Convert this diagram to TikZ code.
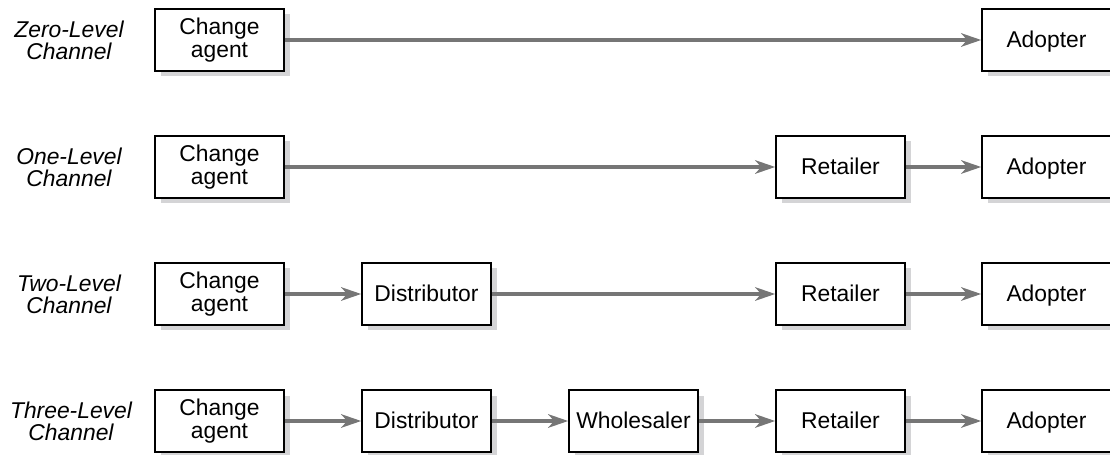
\documentclass[tikz,border=0pt]{standalone}
\usepackage{fontspec}
\setmainfont{Liberation Sans}
\usepackage{tikz}
\usetikzlibrary{arrows.meta, positioning, shadows}
\definecolor{ArrowGray}{RGB}{118,118,118}
\definecolor{ShadowGray}{RGB}{212,212,214}
\tikzstyle{chanbox} = [draw, line width=0.9pt, fill=white, minimum width=2.58cm, minimum height=1.24cm, align=center, font=\fontsize{13}{13}\selectfont, drop shadow={shadow xshift=0.11cm, shadow yshift=-0.11cm, fill=ShadowGray, opacity=1}]
\tikzstyle{onebox} = [chanbox, text height=0.85em, text depth=0em]
\tikzstyle{level} = [align=center, font=\fontsize{13}{12.6}\selectfont\itshape]
\tikzstyle{arrow} = [line width=2.3pt, ArrowGray, -{Stealth[length=0.4cm, width=0.27cm, inset=0.12cm]}]

\begin{document}
\begin{tikzpicture}
\useasboundingbox (0,0) rectangle (22.2,-9.1);

% zero-level
\node[level] (lv0) at (1.38,-0.80) {Zero-Level\\Channel};
\node[chanbox] (ca0) at (4.39,-0.80) {Change\\agent};
\node[onebox] (ad0) at (20.93,-0.80) {Adopter};
\draw[arrow] (ca0) -- (ad0);

% one-level
\node[level] (lv1) at (1.38,-3.34) {One-Level\\Channel};
\node[chanbox] (ca1) at (4.39,-3.34) {Change\\agent};
\node[onebox] (re1) at (16.81,-3.34) {Retailer};
\node[onebox] (ad1) at (20.93,-3.34) {Adopter};
\draw[arrow] (ca1) -- (re1);
\draw[arrow] (re1) -- (ad1);

% two-level
\node[level] (lv2) at (1.38,-5.88) {Two-Level\\Channel};
\node[chanbox] (ca2) at (4.39,-5.88) {Change\\agent};
\node[onebox] (di2) at (8.53,-5.88) {Distributor};
\node[onebox] (re2) at (16.81,-5.88) {Retailer};
\node[onebox] (ad2) at (20.93,-5.88) {Adopter};
\draw[arrow] (ca2) -- (di2);
\draw[arrow] (di2) -- (re2);
\draw[arrow] (re2) -- (ad2);

% three-level
\node[level] (lv3) at (1.42,-8.42) {Three-Level\\Channel};
\node[chanbox] (ca3) at (4.39,-8.42) {Change\\agent};
\node[onebox] (di3) at (8.53,-8.42) {Distributor};
\node[onebox] (wh3) at (12.67,-8.42) {Wholesaler};
\node[onebox] (re3) at (16.81,-8.42) {Retailer};
\node[onebox] (ad3) at (20.93,-8.42) {Adopter};
\draw[arrow] (ca3) -- (di3);
\draw[arrow] (di3) -- (wh3);
\draw[arrow] (wh3) -- (re3);
\draw[arrow] (re3) -- (ad3);
\end{tikzpicture}
\end{document}
